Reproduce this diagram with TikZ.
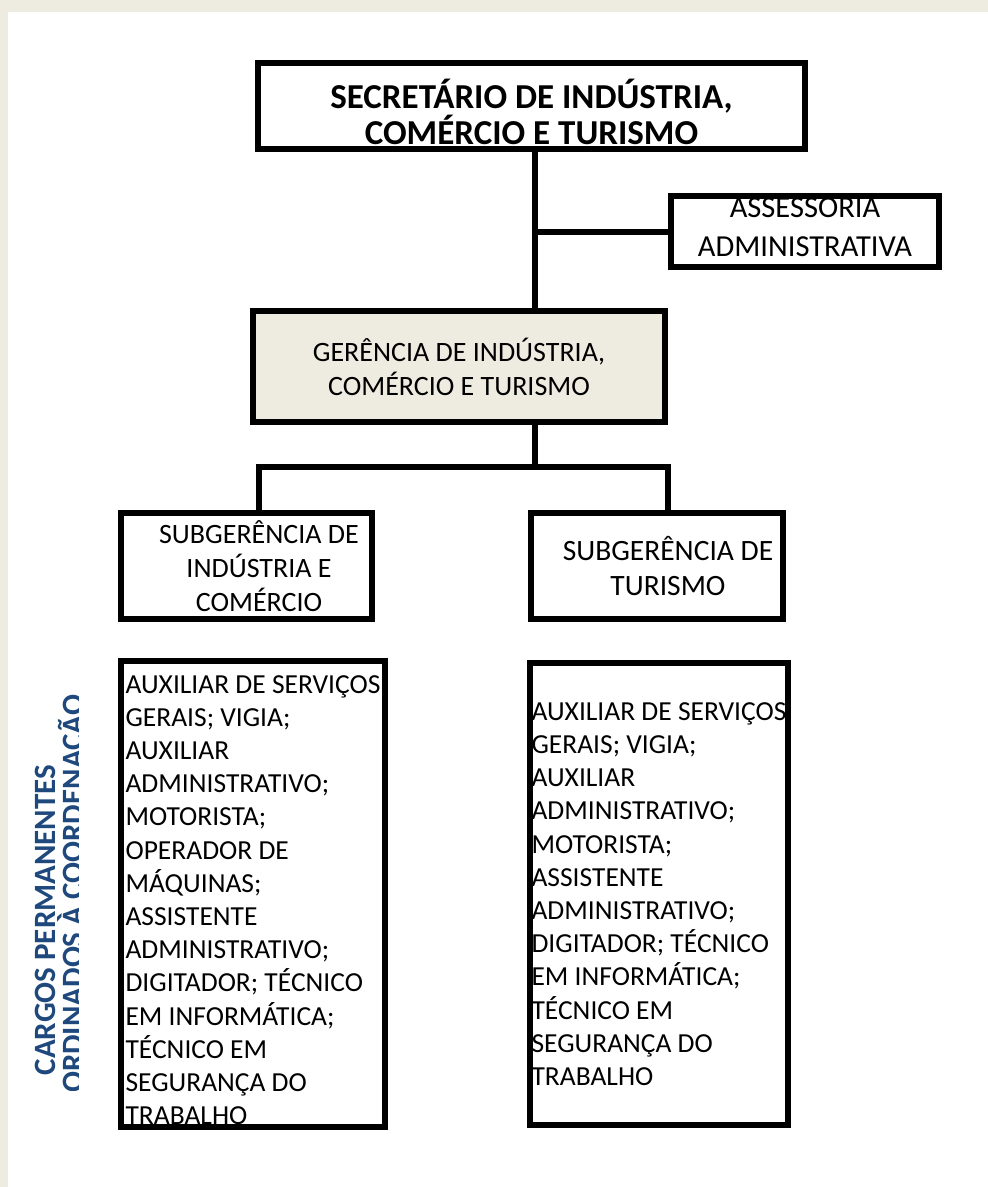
\documentclass[tikz,border=0pt]{standalone}
\usepackage{fontspec}
\setmainfont{Carlito}
\definecolor{paper}{HTML}{EEECE1}
\definecolor{navy}{HTML}{1F497D}
\begin{document}
\begin{tikzpicture}[x=1pt,y=-1pt,
  box/.style={draw=black, line width=6pt, fill=white, inner sep=2pt, outer sep=0pt,
    align=center, font=\fontsize{28}{34}\selectfont},
  boxtext/.style={inner sep=0pt, align=center, font=\fontsize{28}{34}\selectfont},
  headbox/.style={box, font=\bfseries\fontsize{35}{36}\selectfont},
  listbox/.style={box, align=left, font=\fontsize{27.5}{33.2}\selectfont},
  wire/.style={draw=black, line width=6pt, line join=miter},
  vlabel/.style={text=navy, align=center, inner sep=0pt,
    font=\bfseries\fontsize{31}{24}\selectfont},
]
% page background and margin band
\fill[paper] (0,0) rectangle (988,1187);
\fill[white] (8,12) rectangle (988,1187);
\useasboundingbox (0,0) rectangle (988,1187);

% trunk and bar positions
\coordinate (tk) at (535,0);
\coordinate (bar) at (0,467);
\coordinate (lx) at (259,0);
\coordinate (rx) at (668,0);

% boxes (a tall strut on a first line pushes that block of text down)
\node[headbox, minimum width=547, minimum height=86] (sec) at (531.5,106)
  {\rule{0pt}{42pt}SECRETÁRIO DE INDÚSTRIA,\\COMÉRCIO E TURISMO};
\node[box, minimum width=268, minimum height=67, text depth=8pt,
  font=\fontsize{30.5}{39}\selectfont] (asr) at (805,231.5)
  {ASSESSORIA\\ADMINISTRATIVA};
\node[box, fill=paper, minimum width=412, minimum height=111] (ger) at (459,366.5)
  {GERÊNCIA DE INDÚSTRIA,\\COMÉRCIO E TURISMO};
\node[box, minimum width=251, minimum height=106] (sub1) at (246.5,566) {};
\node[boxtext] (sub1t) at (sub1.center -| lx)
  {SUBGERÊNCIA DE\\INDÚSTRIA E\\COMÉRCIO};
\node[box, minimum width=252, minimum height=106] (sub2) at (657,566) {};
\node[boxtext, font=\fontsize{29.5}{35}\selectfont] (sub2t) at (sub2.center -| rx)
  {SUBGERÊNCIA DE\\TURISMO};
\node[listbox, minimum width=264, minimum height=462] (lst1) at (253,894)
  {\rule{0pt}{30pt}AUXILIAR DE SERVIÇOS\\GERAIS; VIGIA;\\AUXILIAR\\ADMINISTRATIVO;\\MOTORISTA;\\OPERADOR DE\\MÁQUINAS;\\ASSISTENTE\\ADMINISTRATIVO;\\DIGITADOR; TÉCNICO\\EM INFORMÁTICA;\\TÉCNICO EM\\SEGURANÇA DO\\TRABALHO};
\node[listbox, minimum width=256, minimum height=462] (lst2) at (659,894)
  {AUXILIAR DE SERVIÇOS\\GERAIS; VIGIA;\\AUXILIAR\\ADMINISTRATIVO;\\MOTORISTA;\\ASSISTENTE\\ADMINISTRATIVO;\\DIGITADOR; TÉCNICO\\EM INFORMÁTICA;\\TÉCNICO EM\\SEGURANÇA DO\\TRABALHO};

% borders laid over the text that runs into them
\draw[line width=6pt] (asr.north west) rectangle (asr.south east);
\draw[line width=6pt] (lst1.north west) rectangle (lst1.south east);

% connectors
\draw[wire] (sec.south -| tk) -- (ger.north -| tk);
\draw[wire] (tk |- asr.west) -- (asr.west);
\draw[wire] (ger.south -| tk) -- (tk |- bar);
\draw[wire] (sub1.north -| lx) -- (lx |- bar) -- (rx |- bar) -- (sub2.north -| rx);

% side caption, cut off by its frame
\begin{scope}
  \clip (12,686) rectangle (78,1090);
  \node[vlabel, rotate=90] (cap) at (62,920)
    {CARGOS PERMANENTES\\SUBORDINADOS À COORDENAÇÃO};
\end{scope}
\end{tikzpicture}
\end{document}
